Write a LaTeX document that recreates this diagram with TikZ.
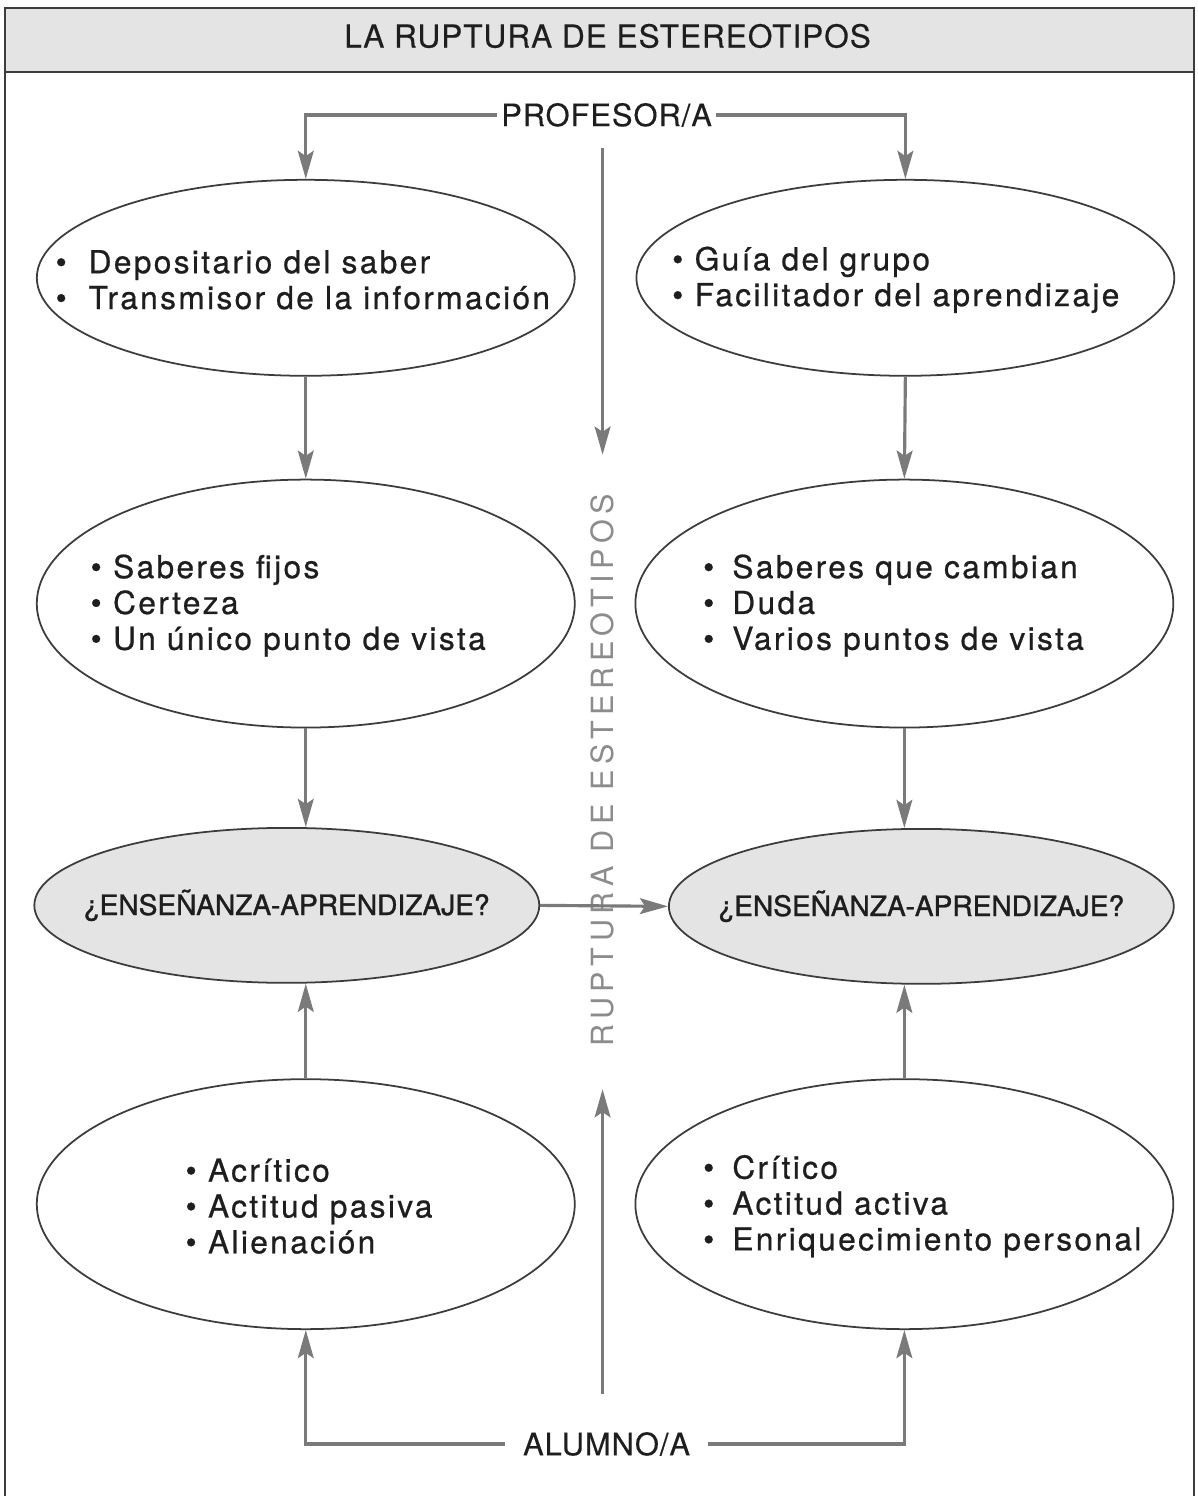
\documentclass[tikz,border=0pt]{standalone}
\usepackage{fontspec}
\setmainfont{TeX Gyre Heros}
\newfontfamily\spacedfont[LetterSpace=7.5, FakeBold=0.7]{TeX Gyre Heros}
\newfontfamily\widefont[LetterSpace=18]{TeX Gyre Heros}
\newfontfamily\headfont[LetterSpace=3, FakeBold=0.3]{TeX Gyre Heros}
\newfontfamily\quesfont[FakeBold=1.2]{TeX Gyre Heros}
\usetikzlibrary{arrows.meta,shapes.geometric,positioning,calc}
\definecolor{linegray}{HTML}{7A7A7A}
\definecolor{edgegray}{HTML}{3C3C3C}
\definecolor{fillgray}{HTML}{E4E4E4}
\definecolor{textdark}{HTML}{1E1E1E}
\definecolor{ruptgray}{HTML}{8C8C8C}
\newcommand{\itm}[1][6.4pt]{\makebox[#1][l]{•}}

\begin{document}
\begin{tikzpicture}[x=0.01cm, y=-0.01cm,
    oval/.style={draw=edgegray, line width=0.5pt, ellipse, inner sep=0pt, fill=white},
    ovalgray/.style={oval, fill=fillgray},
    txt/.style={anchor=west, align=left, text=textdark, inner sep=0pt,
      font=\spacedfont\fontsize{9}{10.2}\selectfont},
    conn/.style={draw=linegray, line width=0.9pt, -{Stealth[length=8pt, width=4.5pt, inset=1.5pt]}},
    role/.style={text=textdark, font=\headfont\fontsize{8.8}{10}\selectfont}]
    % page and frame
    \fill[white] (0,0) rectangle (1198,1497);
    \fill[fillgray] (5,8) rectangle (1195,72);
    \draw[edgegray, line width=0.6pt] (5,1497) -- (5,8) -- (1195,8) -- (1195,1497);
    \draw[edgegray, line width=0.6pt] (5,72) -- (1195,72);
    \node[font=\headfont\fontsize{9}{10}\selectfont, text=textdark] (title) at (608,36) {LA RUPTURA DE ESTEREOTIPOS};

    % roles
    \node[role, inner sep=1pt] (prof) at (607,115) {PROFESOR/A};
    \node[role, inner sep=5pt] (alum) at (607,1445) {ALUMNO/A};

    % ellipses, left column
    \node[oval, minimum width=5.38cm, minimum height=1.96cm] (l1) at (306,278) {};
    \node[oval, minimum width=5.38cm, minimum height=2.48cm] (l2) at (306,604) {};
    \node[ovalgray, minimum width=5.05cm, minimum height=1.55cm] (l3) at (287,906) {};
    \node[oval, minimum width=5.38cm, minimum height=2.50cm] (l4) at (306,1205) {};

    % ellipses, right column
    \node[oval, minimum width=5.38cm, minimum height=1.96cm] (r1) at (906,278) {};
    \node[oval, minimum width=5.38cm, minimum height=2.48cm] (r2) at (905,604) {};
    \node[ovalgray, minimum width=5.05cm, minimum height=1.55cm] (r3) at (922,907) {};
    \node[oval, minimum width=5.38cm, minimum height=2.50cm] (r4) at (905,1205) {};

    % texts
    \node[txt] (l1t) at (55,280) {\itm[9.4pt]Depositario del saber\\\itm[9.4pt]Transmisor de la información};
    \node[txt] (r1t) at (672,280) {\itm Guía del grupo\\\itm Facilitador del aprendizaje};
    \node[txt] (l2t) at (90,606) {\itm Saberes fijos\\\itm Certeza\\\itm Un único punto de vista};
    \node[txt] (r2t) at (703,606) {\itm[8.3pt]Saberes que cambian\\\itm[8.3pt]Duda\\\itm[8.3pt]Varios puntos de vista};
    \node[txt] (l4t) at (185,1207) {\itm Acrítico\\\itm Actitud pasiva\\\itm Alienación};
    \node[txt] (r4t) at (703,1207) {\itm[8.3pt]Crítico\\\itm[8.3pt]Actitud activa\\\itm[8.3pt]Enriquecimiento personal};
    \node[font=\quesfont\fontsize{8}{9}\selectfont, text=textdark] (l3t) at (l3) {¿ENSEÑANZA-APRENDIZAJE?};
    \node[font=\quesfont\fontsize{8}{9}\selectfont, text=textdark] (r3t) at (r3) {¿ENSEÑANZA-APRENDIZAJE?};

    % central rupture
    \coordinate (ctop) at (603,148);
    \coordinate (cdown) at (603,455);
    \coordinate (cbot) at (603,1395);
    \coordinate (cup) at (603,1090);
    \node[rotate=90, text=ruptgray, font=\widefont\fontsize{8.7}{10}\selectfont] (rupt) at (603,771) {RUPTURA DE ESTEREOTIPOS};

    % connectors
    \draw[conn] (prof.west) -| (l1.north);
    \draw[conn] (prof.east) -| (r1.north);
    \draw[conn] (ctop) -- (cdown);
    \draw[conn] (l1.south) -- (l2.north);
    \draw[conn] (r1.south) -- (r2.north);
    \draw[conn] (l2.south) -- (l2.south |- l3.north);
    \draw[conn] (r2.south) -- (r2.south |- r3.north);
    \draw[conn] (l3.east) -- (r3.west);
    \draw[conn] (l4.north) -- (l4.north |- l3.south);
    \draw[conn] (r4.north) -- (r4.north |- r3.south);
    \draw[conn] (alum.west) -| (l4.south);
    \draw[conn] (alum.east) -| (r4.south);
    \draw[conn] (cbot) -- (cup);
\end{tikzpicture}
\end{document}
